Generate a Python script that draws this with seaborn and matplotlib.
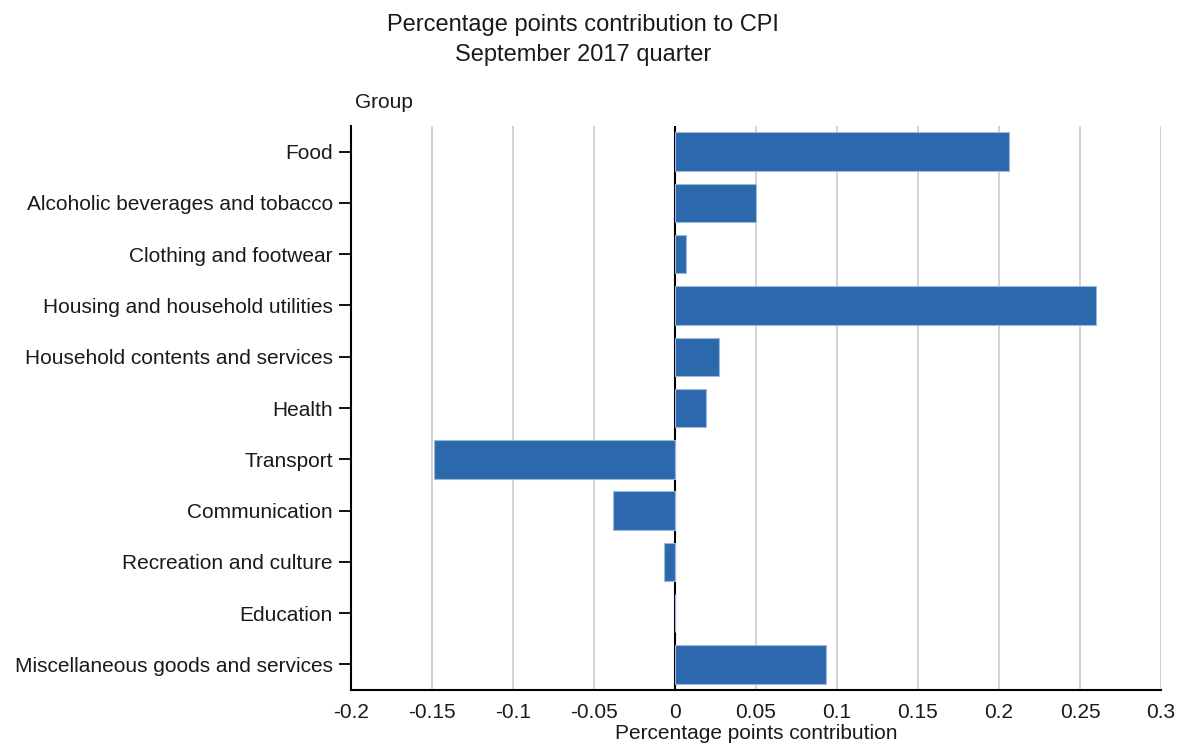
import matplotlib
matplotlib.use("Agg")
import matplotlib.pyplot as plt
import seaborn as sns
import pandas as pd

groups = ["Food", "Alcoholic beverages and tobacco", "Clothing and footwear",
          "Housing and household utilities", "Household contents and services",
          "Health", "Transport", "Communication", "Recreation and culture",
          "Education", "Miscellaneous goods and services"]
contribution = [0.206, 0.050, 0.007, 0.260, 0.027, 0.019, -0.149, -0.038, -0.007, 0.0, 0.093]
xticks = [-0.2, -0.15, -0.1, -0.05, 0, 0.05, 0.1, 0.15, 0.2, 0.25, 0.3]
xticklabels = ["-0.2", "-0.15", "-0.1", "-0.05", "0", "0.05", "0.1", "0.15", "0.2", "0.25", "0.3"]

sns.set_style("white")
plt.rcParams['font.family'] = ['Liberation Sans', 'DejaVu Sans']

df = pd.DataFrame({"Group": groups, "Contribution": contribution})

fig = plt.figure(figsize=(11.81, 7.45), dpi=100)
ax = fig.add_axes([351/1181, 1-690/745, (1161-351)/1181, (690-126)/745])

ax.axvline(0, color="black", lw=1.5, zorder=1)
sns.barplot(data=df, x="Contribution", y="Group", orient="h", color="#2B69AC",
            saturation=1, width=0.75, edgecolor="#9DB8DA", linewidth=0.8, ax=ax, zorder=3)

ax.set_xlim(-0.2, 0.3)
ax.set_xticks(xticks)
ax.set_xticklabels(xticklabels, fontsize=15, color="#1a1a1a")
ax.tick_params(axis="y", labelsize=15, length=9, width=1.3, color="black", left=True, pad=4,
               labelcolor="#1a1a1a")
ax.tick_params(axis="x", length=0, pad=9)
ax.grid(axis="x", color="#cccccc", lw=1.2, zorder=0)
ax.set_axisbelow(True)
for s in ["top", "right"]:
    ax.spines[s].set_visible(False)
for s in ["left", "bottom"]:
    ax.spines[s].set_color("black")
    ax.spines[s].set_linewidth(1.5)
ax.set_ylabel("")
ax.set_xlabel("Percentage points contribution", fontsize=15, labelpad=2, color="#1a1a1a")
ax.text(0.005, 1.025, "Group", transform=ax.transAxes, fontsize=15, ha="left", va="bottom",
        color="#1a1a1a")
fig.text(583/1181, 1-40/745, "Percentage points contribution to CPI\nSeptember 2017 quarter",
         ha="center", va="center", fontsize=17, linespacing=1.45, color="#1a1a1a")

fig.savefig("out.png", dpi=100)
